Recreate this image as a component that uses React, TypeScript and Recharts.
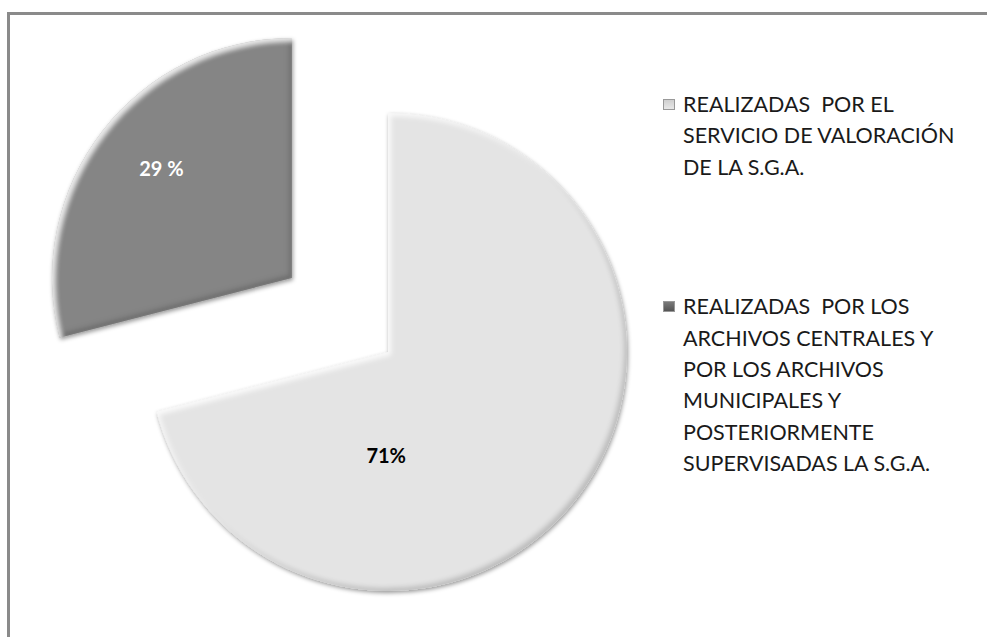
import React from "react";
import { PieChart, Pie, Cell, Legend } from "recharts";

const CATEGORY_LINES: string[][] = [
  ["REALIZADAS  POR EL", "SERVICIO DE VALORACIÓN", "DE LA S.G.A."],
  [
    "REALIZADAS  POR LOS",
    "ARCHIVOS CENTRALES Y",
    "POR LOS ARCHIVOS",
    "MUNICIPALES Y",
    "POSTERIORMENTE",
    "SUPERVISADAS LA S.G.A.",
  ],
];
const CATEGORIES = CATEGORY_LINES.map((l) => l.join(" "));
const VALUES = [71, 29];
const PCT_LABELS = ["71%", "29 %"];
const COLORS = ["#e4e4e4", "#858585"];
const LEGEND_ICON = ["#cfcfcf", "#7a7a7a"];

const data = CATEGORIES.map((name, i) => ({ name, value: VALUES[i] }));

const FONT = "Lato, 'Open Sans', sans-serif";
const RAD = Math.PI / 180;

const makeLabel = (show: number) => (props: any) => {
  const { cx, cy, outerRadius, index } = props;
  if (index !== show) return null;
  const ang = index === 0 ? -91 : 140;
  const r = index === 0 ? outerRadius * 0.43 : outerRadius * 0.71;
  const x = cx + Math.cos(ang * RAD) * r;
  const y = cy - Math.sin(ang * RAD) * r;
  return (
    <text
      x={x}
      y={y}
      textAnchor="middle"
      dominantBaseline="central"
      fontFamily={FONT}
      fontWeight={700}
      fontSize={20}
      fill={index === 0 ? "#000" : "#fff"}
    >
      {PCT_LABELS[index]}
    </text>
  );
};

const LegendContent = (props: any) => {
  const payload: any[] = props.payload || [];
  const seen = new Set<number>();
  const items: number[] = [];
  payload.forEach((p: any) => {
    const idx = CATEGORIES.indexOf(p && p.value);
    if (idx >= 0 && !seen.has(idx)) {
      seen.add(idx);
      items.push(idx);
    }
  });
  if (items.length === 0) CATEGORIES.forEach((_, i) => items.push(i));
  return (
    <div style={{ fontFamily: FONT, fontSize: 21.5, color: "#1a1a1a" }}>
      {items.map((i, k) => (
        <div
          key={i}
          style={{ position: "relative", paddingLeft: 20, marginBottom: k === 0 ? 108 : 0 }}
        >
          <span
            style={{
              position: "absolute",
              left: 0,
              top: 10,
              width: 12,
              height: 11,
              background: `linear-gradient(180deg, ${LEGEND_ICON[i]} 0%, ${i === 0 ? "#e8e8e8" : "#555"} 100%)`,
              border: "1px solid #999",
              boxSizing: "border-box",
            }}
          />
          {(CATEGORY_LINES[i] || []).map((line, j) => (
            <div key={j} style={{ lineHeight: "31.4px", height: 31.4, whiteSpace: "pre" }}>
              {line}
            </div>
          ))}
        </div>
      ))}
    </div>
  );
};

export default function App() {
  return (
    <div style={{ position: "absolute", left: 0, top: 0, width: 987, height: 637, background: "#fff", overflow: "hidden" }}>
      <div
        style={{
          position: "absolute",
          left: 7,
          top: 12,
          width: 1000,
          height: 700,
          borderTop: "3px solid #8a8a8a",
          borderLeft: "3px solid #8a8a8a",
        }}
      />
      <div style={{ position: "absolute", left: 0, top: 0 }}>
        <PieChart width={987} height={637} margin={{ top: 0, right: 0, bottom: 0, left: 0 }}>
          <defs>
            <filter id="bevel" x="-10%" y="-10%" width="120%" height="120%">
              <feGaussianBlur in="SourceAlpha" stdDeviation="2" result="blur" />
              <feOffset in="blur" dx="1" dy="2" result="offBlur" />
              <feFlood floodColor="#000" floodOpacity="0.4" />
              <feComposite in2="offBlur" operator="in" result="dropShadow" />
              <feGaussianBlur in="SourceAlpha" stdDeviation="2.5" result="b2" />
              <feOffset in="b2" dx="-3" dy="-3" result="o1" />
              <feComposite in="SourceAlpha" in2="o1" operator="out" result="rimDark" />
              <feFlood floodColor="#000" floodOpacity="0.35" />
              <feComposite in2="rimDark" operator="in" result="darkEdge" />
              <feOffset in="b2" dx="3" dy="3" result="o2" />
              <feComposite in="SourceAlpha" in2="o2" operator="out" result="rimLight" />
              <feFlood floodColor="#fff" floodOpacity="0.8" />
              <feComposite in2="rimLight" operator="in" result="lightEdge" />
              <feMerge>
                <feMergeNode in="dropShadow" />
                <feMergeNode in="SourceGraphic" />
                <feMergeNode in="darkEdge" />
                <feMergeNode in="lightEdge" />
              </feMerge>
            </filter>
          </defs>
          <Pie
            data={data}
            dataKey="value"
            nameKey="name"
            cx={388}
            cy={352}
            outerRadius={239}
            startAngle={90}
            endAngle={-270}
            stroke="none"
            isAnimationActive={false}
            labelLine={false}
            label={makeLabel(0)}
          >
            {data.map((d, i) => (
              <Cell
                key={i}
                fill={i === 0 ? COLORS[0] : "none"}
                filter={i === 0 ? "url(#bevel)" : undefined}
              />
            ))}
          </Pie>
          <Pie
            data={data}
            dataKey="value"
            nameKey="name"
            cx={292}
            cy={278}
            outerRadius={240}
            startAngle={90}
            endAngle={-270}
            stroke="none"
            legendType="none"
            isAnimationActive={false}
            labelLine={false}
            label={makeLabel(1)}
          >
            {data.map((d, i) => (
              <Cell
                key={i}
                fill={i === 1 ? COLORS[1] : "none"}
                filter={i === 1 ? "url(#bevel)" : undefined}
              />
            ))}
          </Pie>
          <Legend
            layout="vertical"
            align="right"
            verticalAlign="top"
            content={<LegendContent />}
            wrapperStyle={{ position: "absolute", left: 663, top: 89, width: 320 }}
          />
        </PieChart>
      </div>
    </div>
  );
}
